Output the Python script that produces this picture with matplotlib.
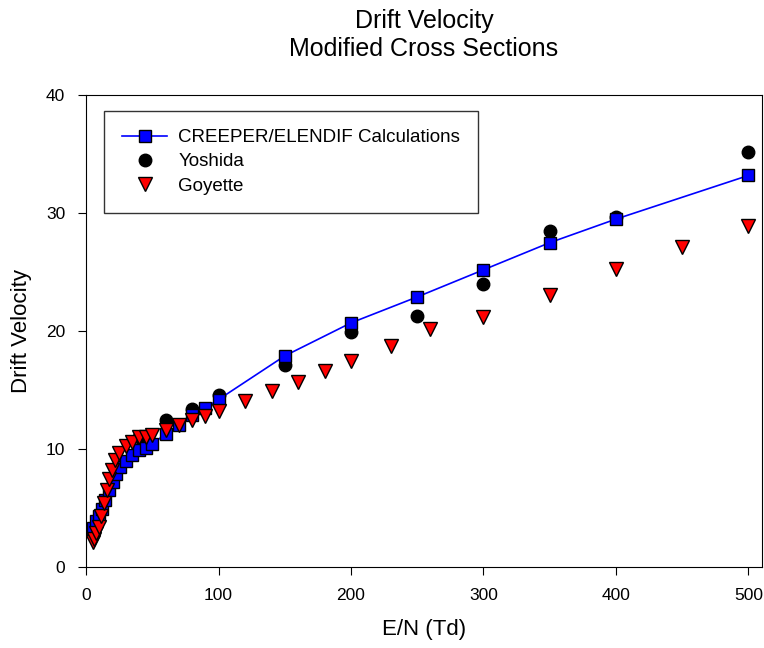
import matplotlib.pyplot as plt

plt.rcParams['font.family'] = ['Liberation Sans', 'DejaVu Sans']

# CREEPER/ELENDIF calculations
calc_en = [5.5, 7.5, 10, 12, 14.5, 17, 20, 23, 26, 30, 35, 40, 45, 50, 60, 70, 80, 90, 100,
           150, 200, 250, 300, 350, 400, 500]
calc_v = [3.3, 3.9, 4.3, 4.9, 5.7, 6.5, 7.2, 7.9, 8.5, 9.0, 9.5, 9.9, 10.1, 10.4, 11.3, 12.0,
          12.9, 13.5, 14.2, 17.9, 20.7, 22.9, 25.2, 27.5, 29.5, 33.2]

# Yoshida
yosh_en = [40, 60, 80, 100, 150, 200, 250, 300, 350, 400, 500]
yosh_v = [11.0, 12.5, 13.4, 14.6, 17.1, 19.9, 21.3, 24.0, 28.5, 29.7, 35.2]

# Goyette
goy_en = [5, 6.3, 7.5, 9.5, 11.3, 13.8, 15.6, 17.6, 19.6, 22, 25, 30, 35, 40, 45, 50,
          60, 70, 80, 90, 100, 120, 140, 160, 180, 200, 230, 260, 300, 350, 400, 450, 500]
goy_v = [2.15, 2.4, 2.85, 3.4, 4.3, 5.4, 6.5, 7.5, 8.2, 9.1, 9.7, 10.25, 10.6, 11.0, 11.0, 11.2,
         11.6, 12.0, 12.45, 12.8, 13.2, 14.1, 14.9, 15.7, 16.6, 17.5, 18.7, 20.2, 21.2, 23.1,
         25.3, 27.1, 28.9]

fig = plt.figure(figsize=(7.64, 6.48), dpi=100)
ax = fig.add_axes([0.1126, 0.125, 0.8844, 0.728])

ax.plot(calc_en, calc_v, color='blue', lw=1.2, marker='s', markersize=9,
        markerfacecolor='blue', markeredgecolor='black', markeredgewidth=1,
        label='CREEPER/ELENDIF Calculations', zorder=3)
ax.plot(yosh_en, yosh_v, ls='none', marker='o', markersize=9, color='black',
        label='Yoshida', zorder=2)
ax.plot(goy_en, goy_v, ls='none', marker='v', markersize=10, markerfacecolor='red',
        markeredgecolor='black', markeredgewidth=1, label='Goyette', zorder=4)

ax.set_xlim(0, 510)
ax.set_ylim(0, 40)
ax.set_xticks([0, 100, 200, 300, 400, 500])
ax.set_yticks([0, 10, 20, 30, 40])
ax.tick_params(direction='out', length=6, labelsize=12.5, pad=9)
ax.set_xlabel('E/N (Td)', fontsize=16, labelpad=12)
ax.set_ylabel('Drift Velocity', fontsize=16, labelpad=10)
ax.set_title('Drift Velocity\nModified Cross Sections', fontsize=18, pad=28, linespacing=1.25)

leg = ax.legend(loc='upper left', bbox_to_anchor=(0.027, 0.966), fontsize=13.5, frameon=True,
                fancybox=False, edgecolor='black', borderpad=0.95, labelspacing=0.38,
                handlelength=2.4, handletextpad=0.6, borderaxespad=0)
leg.get_frame().set_linewidth(1)

fig.savefig('out.png', dpi=100)
